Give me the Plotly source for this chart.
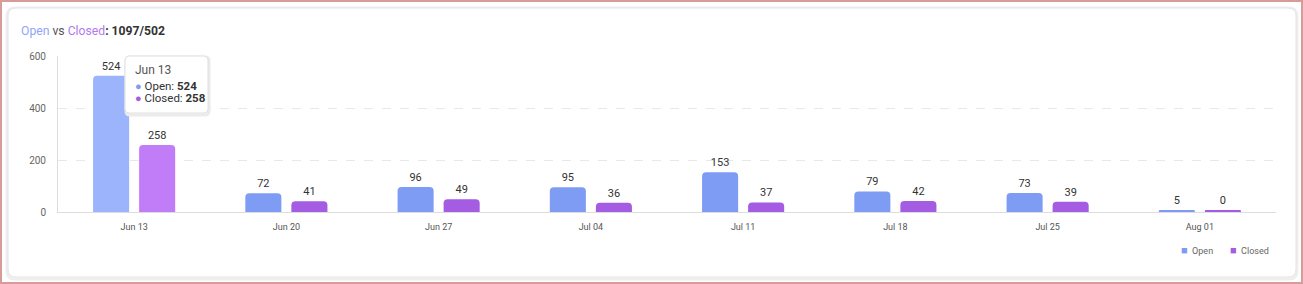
import plotly.graph_objects as go
import numpy as np

categories = ["Jun 13", "Jun 20", "Jun 27", "Jul 04", "Jul 11", "Jul 18", "Jul 25", "Aug 01"]
open_vals = [524, 72, 96, 95, 153, 79, 73, 5]
closed_vals = [258, 41, 49, 36, 37, 42, 39, 0]
y_ticks = [0, 200, 400, 600]
series_names = ["Open", "Closed"]

OPEN = "#7F9CF5"
CLOSED = "#A35CE2"
OPEN_HI = "#9CB4FB"
CLOSED_HI = "#C17DF8"

W, H = 1303, 284
L, R, T, B = 58, 27, 56, 72
PW, PH = W - L - R, H - T - B

def px(x):
    return (x - L) / PW

def py(y):
    return (H - B - y) / PH

min_h = 7  # minimum visible bar height (value units), like the original library
open_disp = np.maximum(np.array(open_vals, float), min_h)
closed_disp = np.maximum(np.array(closed_vals, float), min_h)

open_colors = [OPEN_HI] + [OPEN] * (len(categories) - 1)
closed_colors = [CLOSED_HI] + [CLOSED] * (len(categories) - 1)

fig = go.Figure()
fig.add_trace(go.Bar(
    name=series_names[0], x=categories, y=open_disp, text=[str(v) for v in open_vals],
    textposition="outside", cliponaxis=False, showlegend=False,
    textfont=dict(size=11, color="#333333", family="Roboto"),
    marker=dict(color=open_colors, cornerradius=4, line=dict(width=0)),
    hoverinfo="skip",
))
fig.add_trace(go.Bar(
    name=series_names[1], x=categories, y=closed_disp, text=[str(v) for v in closed_vals],
    textposition="outside", cliponaxis=False, showlegend=False,
    textfont=dict(size=11, color="#333333", family="Roboto"),
    marker=dict(color=closed_colors, cornerradius=4, line=dict(width=0)),
    hoverinfo="skip",
))

def rounded_rect(x0, y0, x1, y1, r):
    rx = r / PW
    ry = r / PH
    X0, X1 = px(x0), px(x1)
    Y0, Y1 = py(y0), py(y1)
    return (f"M {X0+rx},{Y0} L {X1-rx},{Y0} Q {X1},{Y0} {X1},{Y0-ry} "
            f"L {X1},{Y1+ry} Q {X1},{Y1} {X1-rx},{Y1} L {X0+rx},{Y1} "
            f"Q {X0},{Y1} {X0},{Y1+ry} L {X0},{Y0-ry} Q {X0},{Y0} {X0+rx},{Y0} Z")

shapes = [
    dict(type="rect", xref="paper", yref="paper", x0=px(1), x1=px(W - 1), y0=py(H - 1), y1=py(1),
         line=dict(color="#D99A9A", width=2), fillcolor="rgba(0,0,0,0)", layer="below"),
    dict(type="path", xref="paper", yref="paper", path=rounded_rect(7, 8, 1297, 279, 8),
         line=dict(color="#EEEEEE", width=3), fillcolor="#FFFFFF", layer="below"),
    dict(type="path", xref="paper", yref="paper", path=rounded_rect(8, 8, 1296, 277, 8),
         line=dict(color="#E4E4E4", width=1), fillcolor="#FFFFFF", layer="below"),
    dict(type="path", xref="paper", yref="paper", path=rounded_rect(126, 57, 209, 115, 4),
         line=dict(color="#EBEBEB", width=3), fillcolor="#FFFFFF", layer="above"),
    dict(type="path", xref="paper", yref="paper", path=rounded_rect(125, 56, 208, 113, 4),
         line=dict(color="#E0E0E0", width=1), fillcolor="#FFFFFF", layer="above"),
]

annotations = [
    dict(xref="paper", yref="paper", x=px(19), y=py(31), xanchor="left", yanchor="middle",
         showarrow=False, align="left",
         text=(f"<span style='color:#8DA6F8'>Open</span>"
               f"<span style='color:#555555'> vs </span>"
               f"<span style='color:#B17AEE'>Closed</span>"
               f"<b style='color:#333333'>: 1097/502</b>"),
         font=dict(size=12.2, family="Roboto", color="#333333")),
    dict(xref="paper", yref="paper", x=px(133), y=py(70), xanchor="left", yanchor="middle",
         showarrow=False, text=categories[0], font=dict(size=12, family="Roboto", color="#555555")),
    dict(xref="paper", yref="paper", x=px(133), y=py(86), xanchor="left", yanchor="middle",
         showarrow=False,
         text=f"<span style='color:{OPEN};font-size:11px'>●</span>&nbsp;{series_names[0]}: <b>{open_vals[0]}</b>",
         font=dict(size=11.5, family="Roboto", color="#333333")),
    dict(xref="paper", yref="paper", x=px(133), y=py(98), xanchor="left", yanchor="middle",
         showarrow=False,
         text=f"<span style='color:{CLOSED};font-size:11px'>●</span>&nbsp;{series_names[1]}: <b>{closed_vals[0]}</b>",
         font=dict(size=11.5, family="Roboto", color="#333333")),
    # legend
    dict(xref="paper", yref="paper", x=px(1179), y=py(250), xanchor="left", yanchor="middle",
         showarrow=False,
         text=f"<span style='color:{OPEN};font-size:11px'>■</span>&nbsp;&nbsp;{series_names[0]}",
         font=dict(size=9, family="Roboto", color="#666666")),
    dict(xref="paper", yref="paper", x=px(1228), y=py(250), xanchor="left", yanchor="middle",
         showarrow=False,
         text=f"<span style='color:{CLOSED};font-size:11px'>■</span>&nbsp;&nbsp;{series_names[1]}",
         font=dict(size=9, family="Roboto", color="#666666")),
]

fig.update_layout(
    width=W, height=H,
    margin=dict(l=L, r=R, t=T, b=B),
    paper_bgcolor="#FFFFFF", plot_bgcolor="rgba(0,0,0,0)",
    barmode="group", bargap=0.395, bargroupgap=0.217,
    font=dict(family="Roboto", color="#666666"),
    showlegend=False,
    shapes=shapes, annotations=annotations,
    xaxis=dict(showgrid=False, showline=True, linecolor="#DDDDDD", linewidth=1,
               ticks="", tickfont=dict(size=9, color="#555555"), ticklabelstandoff=6,
               fixedrange=True),
    yaxis=dict(range=[0, 600], tickvals=y_ticks, showgrid=True, griddash="dash",
               gridcolor="#E8E8E8", gridwidth=1, zeroline=False, showline=True,
               linecolor="#DDDDDD", linewidth=1, ticks="", ticklabelstandoff=9,
               tickfont=dict(size=10, color="#666666"), fixedrange=True),
)

fig.write_html("out.html")
